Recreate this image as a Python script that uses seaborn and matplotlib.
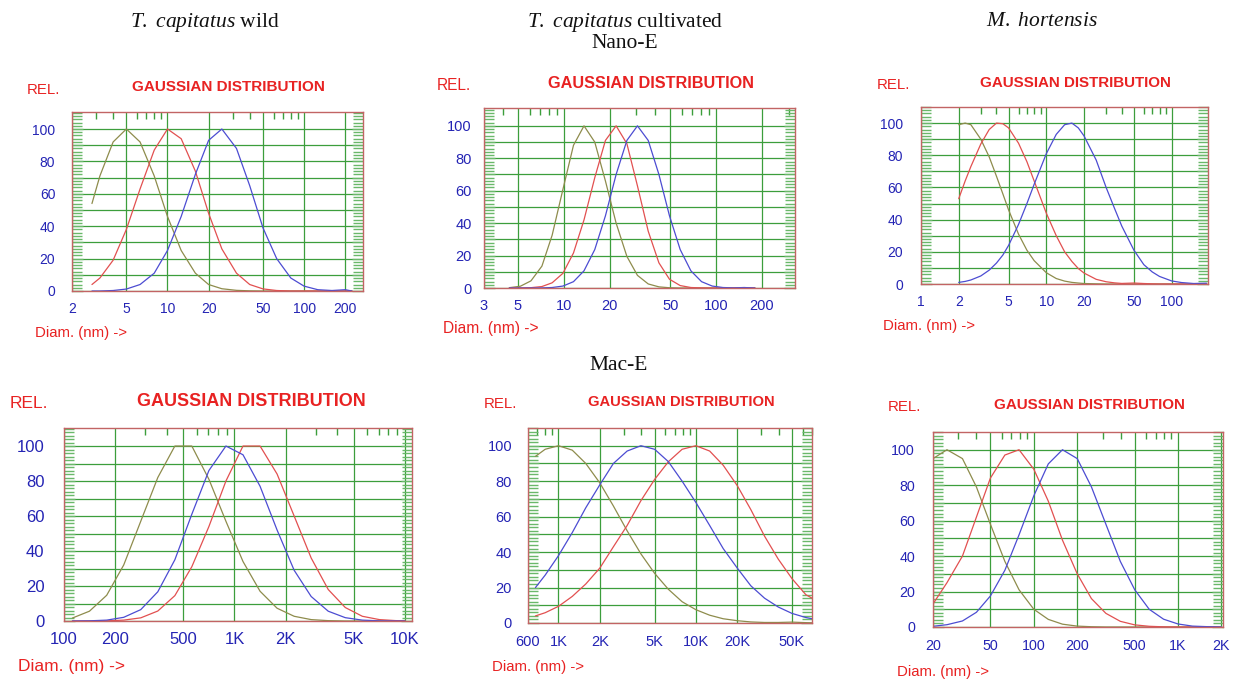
import matplotlib
matplotlib.use("Agg")
import numpy as np
import matplotlib.pyplot as plt
import matplotlib.ticker as mticker
from matplotlib import font_manager
import seaborn as sns

# --- values (x = diameter, y = relative %) ---
p1_x = [2.8, 3.2, 4, 5, 6.3, 8, 10, 12.6, 16, 20, 25, 32, 40, 50, 63, 80, 100, 126, 160, 200, 224]
p1_olive = [54, 71, 92, 100, 92, 71, 46, 25, 11, 4, 1.4, 0.4, 0.1, 0, 0, 0, 0, 0, 0, 0, 0]
p1_red = [4, 8, 19, 38, 63, 87, 100, 94, 74, 48, 26, 11, 4, 1.3, 0.3, 0, 0, 0, 0, 0, 0]
p1_blue = [0, 0, 0.3, 1.2, 4, 11, 25, 46, 72, 93, 100, 88, 65, 39, 20, 8, 3, 0.8, 0.3, 0.8, 0]

p2_x = [4.4, 5.2, 6.1, 7.2, 8.4, 9.9, 11.6, 13.6, 16, 18.8, 22.1, 26, 30.5, 35.9, 42.2, 49.5,
        58.2, 68.4, 80.4, 94.4, 111, 130, 153, 180]
p2_olive = [0.2, 1.1, 4.4, 13.5, 32.5, 61, 88, 100, 90, 66, 40, 19.5, 7.8, 2.5, 0.7, 0.15,
            0, 0, 0, 0, 0, 0, 0, 0]
p2_red = [0, 0.04, 0.2, 0.9, 3.2, 9.1, 21.6, 42, 68, 91, 100, 89, 63, 35, 15.5, 5.4,
          1.5, 0.3, 0.06, 0, 0, 0, 0, 0]
p2_blue = [0, 0, 0, 0.07, 0.3, 1.2, 3.9, 10.6, 23.7, 44.5, 70, 91, 100, 91, 70, 44.5,
           23.7, 10.6, 3.9, 1.2, 0.3, 0.07, 0.3, 0]

p3_x = [2, 2.25, 2.5, 3, 3.5, 4, 4.5, 5, 6, 7, 8, 10, 12, 14, 16, 18, 20, 25, 30, 35, 40,
        50, 60, 70, 80, 100, 120, 150, 190]
p3_olive = [99, 100, 99, 90, 79, 67, 56, 46, 31, 21, 14.5, 7, 3.4, 1.8, 1, 0.6, 0.3, 0.1,
            0, 0, 0, 0, 0, 0, 0, 0, 0, 0, 0]
p3_red = [53, 64, 73, 87, 96, 100, 99.6, 97, 87.5, 76, 64, 44, 30, 20, 14, 9.6, 6.8, 2.9,
          1.4, 0.7, 0.35, 0.6, 0.3, 0.1, 0, 0, 0, 0, 0]
p3_blue = [1, 1.6, 2.5, 5, 8.6, 13, 18, 24, 37, 50, 62, 81, 93, 99, 100, 97, 92, 77, 60,
           47, 36, 21, 12, 7.5, 4.7, 1.9, 0.9, 0.3, 0.5]

p4_x = [112, 141, 178, 224, 282, 355, 447, 562, 708, 891, 1122, 1413, 1778, 2239, 2818,
        3548, 4467, 5623, 7079, 8913, 10000]
p4_olive = [1.7, 5.6, 14.7, 32, 57, 82, 100, 100, 81, 57, 34, 17, 7.3, 2.7, 0.8, 0.2,
            0, 0, 0, 0, 0]
p4_blue = [0, 0.1, 0.5, 2.1, 6.5, 16.7, 35, 61, 86, 100, 95, 77, 52, 29, 14, 5.6,
           1.9, 0.5, 0.1, 0, 0]
p4_red = [0, 0, 0.1, 0.5, 1.8, 5.7, 14.5, 31, 54, 80, 100, 100, 84, 60, 36, 18,
          7.7, 2.7, 0.8, 0.2, 0.1]

p5_x = [680, 800, 1000, 1260, 1580, 2000, 2510, 3160, 3980, 5010, 6310, 7940, 10000,
        12600, 15800, 20000, 25100, 31600, 39800, 50100, 63100, 70000]
p5_olive = [94, 98, 100, 97.5, 90, 79, 66, 52, 39, 28, 19, 12, 7.5, 4.4, 2.4, 1.3, 0.6,
            0.3, 0.3, 0.5, 0.2, 0.1]
p5_blue = [20, 27, 38, 51, 65, 78, 90, 97, 100, 98, 91, 80, 68, 55, 42, 31, 21, 14, 9,
           5.4, 3.1, 2.4]
p5_red = [4, 5.8, 9.4, 15, 22, 31, 43, 55, 69, 81, 91, 98, 100, 97, 89, 77.5, 64, 49, 36,
          25, 16, 14]

p6_x = [20, 25, 32, 40, 50, 63, 79, 100, 126, 158, 200, 251, 316, 398, 501, 631, 794,
        1000, 1259, 1585, 1995]
p6_olive = [95, 100, 95, 79, 58, 37, 21, 10, 4.3, 1.6, 0.5, 0.15, 0, 0, 0, 0, 0, 0, 0, 0, 0]
p6_red = [13, 25, 40, 62, 84, 97, 100, 89, 71, 49, 30, 16, 7.7, 3.2, 1.2, 0.4, 0.1, 0, 0, 0, 0]
p6_blue = [0.4, 1.3, 3.4, 8.3, 17.5, 32, 52, 74, 92, 100, 95, 79, 58, 37, 21, 10, 4.4,
           1.7, 0.5, 0.2, 0]

# tick positions and labels of each panel
p1_ticks = [2, 5, 10, 20, 50, 100, 200]
p2_ticks = [3, 5, 10, 20, 50, 100, 200]
p3_ticks = [1, 2, 5, 10, 20, 50, 100]
p4_ticks = [100, 200, 500, 1000, 2000, 5000, 10000]
p4_labels = ["100", "200", "500", "1K", "2K", "5K", "10K"]
p5_ticks = [600, 1000, 2000, 5000, 10000, 20000, 50000]
p5_labels = ["600", "1K", "2K", "5K", "10K", "20K", "50K"]
p6_ticks = [20, 50, 100, 200, 500, 1000, 2000]
p6_labels = ["20", "50", "100", "200", "500", "1K", "2K"]
y_ticks = [0, 10, 20, 30, 40, 50, 60, 70, 80, 90, 100]
y_labels = ["0", "", "20", "", "40", "", "60", "", "80", "", "100"]

sns.set_style("white")

# the scanned labels look vertically stretched: a narrow face at a larger size copies that
try:
    font_manager.findfont("Liberation Sans Narrow", fallback_to_default=False)
    SANS, SCALE = ["Liberation Sans Narrow", "DejaVu Sans"], 1.2
except ValueError:
    SANS, SCALE = ["Liberation Sans", "DejaVu Sans"], 1.0

plt.rcParams["font.family"] = SANS
plt.rcParams["mathtext.fontset"] = "custom"
plt.rcParams["mathtext.it"] = "Liberation Serif:italic"
plt.rcParams["mathtext.rm"] = "Liberation Serif"

GREEN = "#3c9e3c"
FRAME = "#c26464"
OLIVE = "#8e8c4c"
RED = "#e25050"
BLUE = "#4c4cd2"
TXT_BLUE = "#2424b4"
TXT_RED = "#e82222"

W, H = 1235, 679
fig = plt.figure(figsize=(W / 100, H / 100), dpi=100)


def rect(x0, x1, y0, y1):
    return [x0 / W, 1 - y1 / H, (x1 - x0) / W, (y1 - y0) / H]


panels = [
    dict(x=p1_x, ys=(p1_olive, p1_red, p1_blue), ticks=p1_ticks, labels=None,
         xlim=(2, 270), ylim=110.5, box=(72, 363, 112, 291),
         rel=(27, 90), title=(228, 87), diam=(35, 333), ts=10, tt=11, tl=10.8, ypad=12, xpad=8),
    dict(x=p2_x, ys=(p2_olive, p2_red, p2_blue), ticks=p2_ticks, labels=None,
         xlim=(3, 330), ylim=111, box=(484, 795, 108, 288),
         rel=(437, 86), title=(651, 84), diam=(443, 328), ts=10.5, tt=11.7, tl=11.2, ypad=9, xpad=8),
    dict(x=p3_x, ys=(p3_olive, p3_red, p3_blue), ticks=p3_ticks, labels=None,
         xlim=(1, 195), ylim=110, box=(921, 1208, 107, 284),
         rel=(877, 85), title=(1075, 83), diam=(883, 326), ts=10, tt=10.9, tl=10.8, ypad=13, xpad=8),
    dict(x=p4_x, ys=(p4_olive, p4_red, p4_blue), ticks=p4_ticks, labels=p4_labels,
         xlim=(100, 11000), ylim=110.3, box=(64, 412, 428, 621),
         rel=(10, 403), title=(251, 401), diam=(18, 666), ts=12, tt=13, tl=12.5, ypad=14, xpad=8),
    dict(x=p5_x, ys=(p5_olive, p5_red, p5_blue), ticks=p5_ticks, labels=p5_labels,
         xlim=(600, 70000), ylim=110, box=(528, 812, 428, 623),
         rel=(484, 404), title=(681, 402), diam=(492, 667), ts=10.5, tt=10.6, tl=10.8, ypad=11.5, xpad=9),
    dict(x=p6_x, ys=(p6_olive, p6_red, p6_blue), ticks=p6_ticks, labels=p6_labels,
         xlim=(20, 2050), ylim=110, box=(933, 1223, 432, 627),
         rel=(888, 407), title=(1089, 405), diam=(897, 672), ts=10.3, tt=10.9, tl=10.8, ypad=13, xpad=9),
]

for p in panels:
    ax = fig.add_axes(rect(*p["box"]))
    for yv, col in zip(p["ys"], (OLIVE, RED, BLUE)):
        sns.lineplot(x=p["x"], y=yv, ax=ax, color=col, lw=0.9)
    ax.set_xscale("log")
    ax.set_xlim(*p["xlim"])
    ax.set_ylim(0, p["ylim"])
    ax.set_xlabel("")
    ax.set_ylabel("")

    labels = p["labels"] if p["labels"] else [str(t) for t in p["ticks"]]
    ax.set_xticks(p["ticks"], labels)
    ax.xaxis.set_minor_locator(mticker.LogLocator(base=10, subs=(3, 4, 6, 7, 8, 9), numticks=30))
    ax.xaxis.set_minor_formatter(mticker.NullFormatter())
    ax.tick_params(axis="x", which="major", length=0, pad=p["xpad"],
                   labelcolor=TXT_BLUE, labelsize=p["ts"] * SCALE)
    ax.tick_params(axis="x", which="minor", bottom=False, top=True, direction="in",
                   length=5, width=1, color=GREEN)

    ax.set_yticks(y_ticks, y_labels)
    ax.yaxis.set_minor_locator(mticker.MultipleLocator(2))
    ax.tick_params(axis="y", which="both", left=True, right=True, direction="in",
                   color="#6ab86a", width=1)
    ax.tick_params(axis="y", which="major", length=8, pad=p["ypad"],
                   labelcolor=TXT_BLUE, labelsize=p["ts"] * SCALE)
    ax.tick_params(axis="y", which="minor", length=7)

    ax.grid(axis="both", which="major", color=GREEN, lw=0.9)
    ax.set_axisbelow(True)
    for s in ax.spines.values():
        s.set_visible(True)
        s.set_color(FRAME)
        s.set_linewidth(1)

    fig.text(p["rel"][0] / W, 1 - p["rel"][1] / H, "REL.", color=TXT_RED,
             fontsize=p["tl"] * SCALE, ha="left", va="center")
    fig.text(p["title"][0] / W, 1 - p["title"][1] / H, "GAUSSIAN DISTRIBUTION",
             color=TXT_RED, fontsize=p["tt"] * SCALE, fontweight="bold", ha="center", va="center")
    fig.text(p["diam"][0] / W, 1 - p["diam"][1] / H, "Diam. (nm) ->", color=TXT_RED,
             fontsize=p["tl"] * SCALE, ha="left", va="center")

# column / row headers
hdr = dict(family="Liberation Serif", fontsize=15.5, ha="center", va="center", color="#111111")
fig.text(205 / W, 1 - 22 / H, r"$\mathit{T.\ capitatus}$ wild", **hdr)
fig.text(625 / W, 1 - 22 / H, r"$\mathit{T.\ capitatus}$ cultivated", **hdr)
fig.text(1042 / W, 1 - 22 / H, r"$\mathit{M.\ hortensis}$", **hdr)
fig.text(625 / W, 1 - 44 / H, "Nano-E", **hdr)
fig.text(619 / W, 1 - 366 / H, "Mac-E", **hdr)

fig.savefig("out.png", dpi=100, facecolor="white")
plt.close(fig)
